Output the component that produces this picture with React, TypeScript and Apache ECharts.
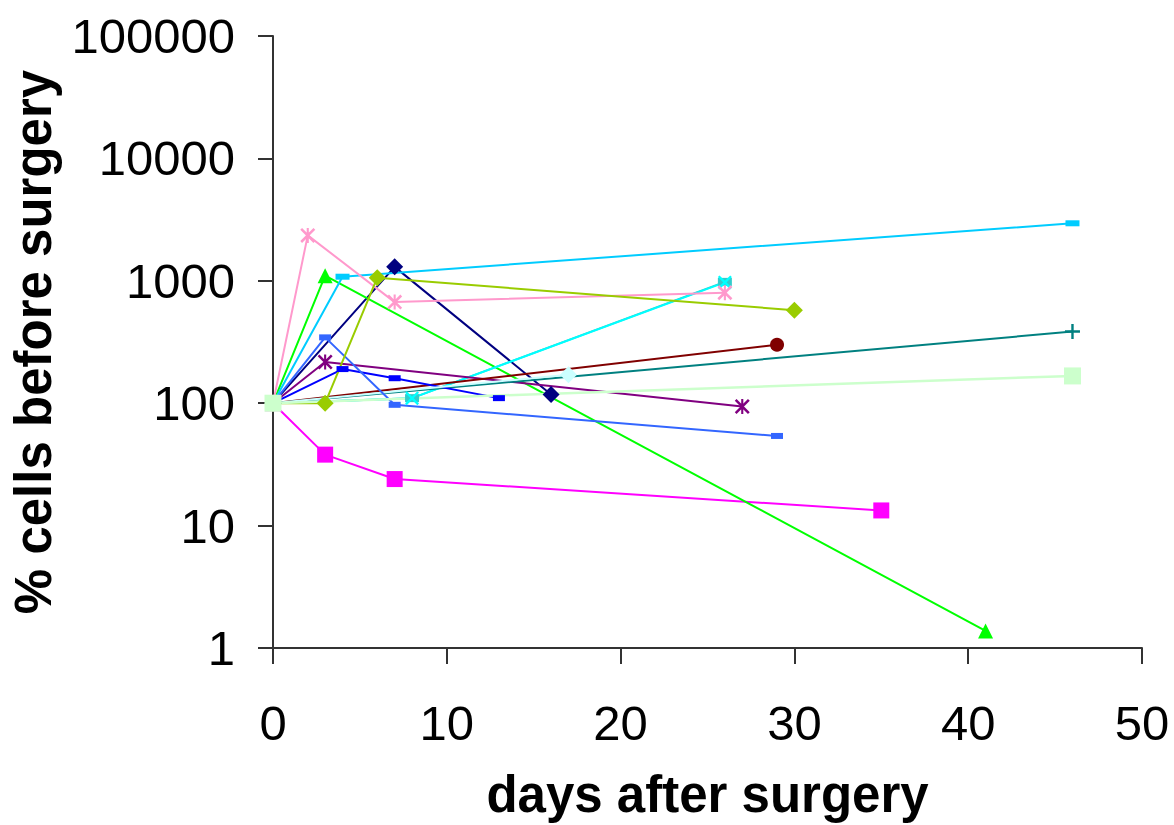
import React, { useEffect, useRef } from "react";
import * as echarts from "echarts";

const xTicks = [0, 10, 20, 30, 40, 50];
const yTicks = [1, 10, 100, 1000, 10000, 100000];

const navyDays = [0, 7, 16];
const navyVals = [100, 1300, 118];
const magentaDays = [0, 3, 7, 35];
const magentaVals = [100, 38, 24, 13.3];
const greenDays = [0, 3, 41];
const greenVals = [100, 1100, 1.38];
const cyanDays = [0, 8, 26];
const cyanVals = [100, 110, 970];
const aquaDays = [0, 8, 26];
const aquaVals = [100, 110, 980];
const purpleDays = [0, 3, 27];
const purpleVals = [100, 217, 94];
const darkRedDays = [0, 29];
const darkRedVals = [100, 300];
const tealDays = [0, 46];
const tealVals = [100, 385];
const blueDays = [0, 4, 7, 13];
const blueVals = [100, 190, 160, 110];
const skyDays = [0, 4, 46];
const skyVals = [100, 1080, 2950];
const lightCyanDays = [0, 17];
const lightCyanVals = [100, 171];
const roseDays = [0, 2, 7, 26];
const roseVals = [100, 2350, 670, 800];
const lightBlueDays = [0, 3, 7, 29];
const lightBlueVals = [100, 345, 97, 54];
const limeDays = [0, 3, 6, 30];
const limeVals = [100, 100, 1060, 575];
const lightGreenDays = [0, 46];
const lightGreenVals = [100, 167];

const X_SYM = "path://M0,12L12,0L100,88L88,100Z M88,0L100,12L12,100L0,88Z";
const AST_SYM =
  "path://M0,12L12,0L100,88L88,100Z M88,0L100,12L12,100L0,88Z M43,0H57V100H43Z";
const PLUS_SYM = "path://M42,0H58V42H100V58H58V100H42V58H0V42H42Z";

const zip = (d: number[], v: number[]) => d.map((x, i) => [x, v[i]]);

export default function App() {
  const ref = useRef<HTMLDivElement>(null);
  useEffect(() => {
    if (!ref.current) return;
    const chart = echarts.init(ref.current, null, { renderer: "svg" });
    const mk = (
      name: string,
      days: number[],
      vals: number[],
      color: string,
      symbol: string,
      symbolSize: number | number[],
      width = 2
    ) => ({
      name,
      type: "line",
      data: zip(days, vals),
      symbol,
      symbolSize,
      showAllSymbol: true,
      lineStyle: { color, width },
      itemStyle: { color, borderWidth: 0 },
      emphasis: { disabled: true },
    });
    const font = "'Liberation Sans', Arial, sans-serif";
    chart.setOption({
      animation: false,
      backgroundColor: "#ffffff",
      grid: { left: 272, right: 32, top: 36, bottom: 171, containLabel: false },
      xAxis: {
        type: "value",
        min: xTicks[0],
        max: xTicks[xTicks.length - 1],
        interval: 10,
        name: "days after surgery",
        nameLocation: "middle",
        nameGap: 121,
        nameTextStyle: { fontFamily: font, fontSize: 51, fontWeight: "bold", color: "#000" },
        axisLine: { show: true, lineStyle: { color: "#333", width: 2 } },
        axisTick: { show: true, length: 16, lineStyle: { color: "#333", width: 2 } },
        axisLabel: { fontFamily: font, fontSize: 49, color: "#000", margin: 50 },
        splitLine: { show: false },
      },
      yAxis: {
        type: "log",
        logBase: 10,
        min: yTicks[0],
        max: yTicks[yTicks.length - 1],
        name: "% cells before surgery",
        nameLocation: "middle",
        nameGap: 214,
        nameTextStyle: { fontFamily: font, fontSize: 51, fontWeight: "bold", color: "#000" },
        axisLine: { show: true, lineStyle: { color: "#333", width: 2 } },
        axisTick: { show: true, length: 15, lineStyle: { color: "#333", width: 2 } },
        axisLabel: {
          fontFamily: font,
          fontSize: 49,
          color: "#000",
          margin: 38,
          formatter: (v: number) => String(Math.round(v)),
        },
        splitLine: { show: false },
      },
      series: [
        mk("s1", navyDays, navyVals, "#000080", "diamond", 17),
        mk("s2", magentaDays, magentaVals, "#FF00FF", "rect", 16),
        mk("s3", greenDays, greenVals, "#00FF00", "triangle", 15),
        mk("s18", aquaDays, aquaVals, "#33CCCC", "rect", [14, 8]),
        mk("s4", cyanDays, cyanVals, "#00FFFF", X_SYM, 14),
        mk("s5", purpleDays, purpleVals, "#800080", AST_SYM, 15),
        mk("s6", darkRedDays, darkRedVals, "#800000", "circle", 14),
        mk("s7", tealDays, tealVals, "#008080", PLUS_SYM, 15),
        mk("s8", blueDays, blueVals, "#0000FF", "rect", [12, 6]),
        mk("s9", skyDays, skyVals, "#00CCFF", "rect", [14, 6]),
        mk("s10", lightCyanDays, lightCyanVals, "#CCFFFF", "diamond", 17),
        mk("s14", roseDays, roseVals, "#FF99CC", AST_SYM, 15),
        mk("s17", lightBlueDays, lightBlueVals, "#3366FF", "rect", [12, 6]),
        mk("s19", limeDays, limeVals, "#99CC00", "diamond", 17),
        mk("s11", lightGreenDays, lightGreenVals, "#CCFFCC", "rect", 17, 2.5),
      ],
    });
    return () => chart.dispose();
  }, []);
  return <div ref={ref} style={{ width: 1174, height: 825, position: "absolute", left: 0, top: 0 }} />;
}
